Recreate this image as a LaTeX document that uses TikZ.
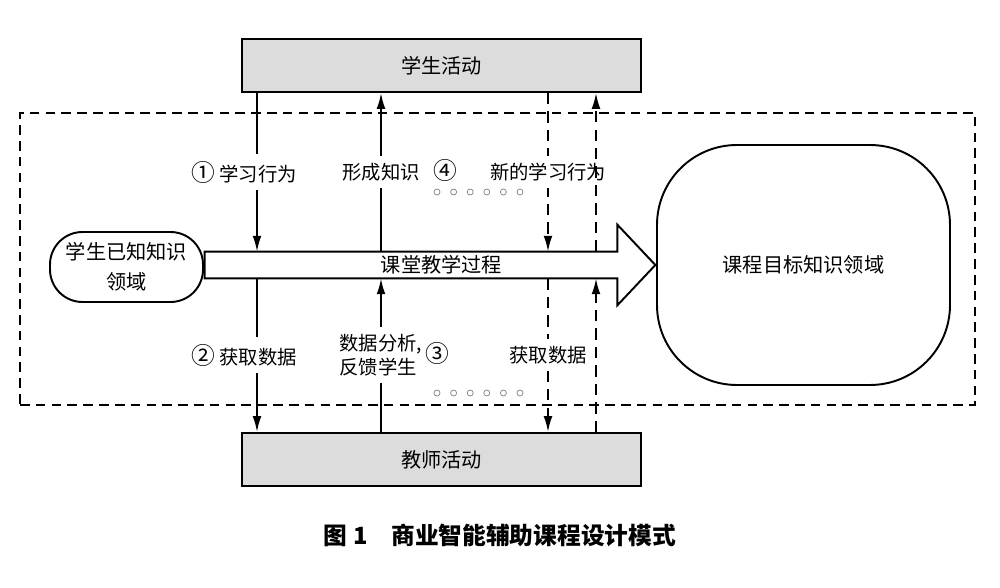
\documentclass[tikz,border=0pt]{standalone}
\usepackage{fontspec}
\setmainfont{Noto Sans CJK SC}
\usepackage{tikz}
\usetikzlibrary{arrows.meta, positioning}
\definecolor{boxgray}{RGB}{220,220,220}
\newcommand{\cnum}[1]{{\fontsize{13.5pt}{14pt}\selectfont #1}}
\tikzstyle{activity} = [rectangle, minimum width=7.98cm, minimum height=1.06cm, text centered, draw=black, line width=1.1pt, fill=boxgray, font=\fontsize{11.5pt}{14pt}\selectfont]
\tikzstyle{knowfield} = [rectangle, draw=black, line width=1.1pt, align=center, font=\fontsize{11.5pt}{17pt}\selectfont]
\tikzstyle{flowtext} = [fill=white, inner xsep=1pt, inner ysep=4pt]
\tikzstyle{arrow} = [line width=1.1pt, -{Latex[length=9pt,width=5pt]}]
\tikzstyle{dasharrow} = [arrow, dash pattern=on 6.5pt off 4pt]
\tikzstyle{dashframe} = [rectangle, draw=black, line width=1.1pt, dash pattern=on 5.5pt off 3.5pt]

\begin{document}
\begin{tikzpicture}[font=\fontsize{11pt}{14pt}\selectfont]
\useasboundingbox (0,0) rectangle (20,11.74);

% Dashed frame
\node (area) [dashframe, minimum width=19.1cm, minimum height=5.84cm] at (9.95,6.56) {};

% Activities
\node (student) [activity] at (8.83,10.43) {学生活动};
\node (teacher) [activity] at (8.83,2.55) {教师活动};

% Knowledge fields
\node (known) [knowfield, minimum width=3.06cm, minimum height=1.4cm, rounded corners=0.65cm] at (2.53,6.4) {学生已知知识\\领域};
\node (target) [knowfield, minimum width=5.86cm, minimum height=4.8cm, rounded corners=1.6cm] at (16.07,6.44) {课程目标知识领域};

% Classroom process arrow
\node (process) [minimum width=8.24cm, minimum height=0.52cm, inner sep=0pt] at (8.22,6.44) {};
\draw [line width=1.1pt] (process.south east) -- ++(0,-0.54) -- ([xshift=0.76cm]process.east) -- ([yshift=0.54cm]process.north east) -- (process.north east) -- (process.north west) -- (process.south west) -- cycle;
\node (processtext) [font=\fontsize{11.5pt}{14pt}\selectfont] at ([xshift=0.61cm]process.center) {课堂教学过程};

% Columns
\coordinate (c1) at (5.14,0);
\coordinate (c2) at (7.62,0);
\coordinate (c3) at (10.96,0);
\coordinate (c4) at (11.92,0);

% Arrows
\draw [arrow] (student.south -| c1) -- node[flowtext, xshift=-0.26cm] {\cnum{①} 学习行为} (process.north -| c1);
\draw [arrow] (process.south -| c1) -- node[flowtext, xshift=-0.26cm] {\cnum{②} 获取数据} (teacher.north -| c1);
\draw [arrow] (process.north -| c2) -- node[flowtext] (form) {形成知识} (student.south -| c2);
\draw [arrow] (teacher.north -| c2) -- node[flowtext, align=left] (feedback) {数据分析,\\反馈学生} (process.south -| c2);
\draw [dasharrow] (student.south -| c3) -- node[flowtext] {新的学习行为} (process.north -| c3);
\draw [dasharrow] (process.south -| c3) -- node[flowtext] {获取数据} (teacher.north -| c3);
\draw [dasharrow] (process.north -| c4) -- (student.south -| c4);
\draw [dasharrow] (teacher.north -| c4) -- (process.south -| c4);

\node (four) at (8.9,8.34) {\cnum{④}};
\node (three) at (8.74,4.68) {\cnum{③}};

% Ellipsis
\foreach \i in {0,...,5} {
  \draw [gray, line width=0.4pt] (8.74+0.332*\i,7.9) circle (0.06);
  \draw [gray, line width=0.4pt] (8.74+0.332*\i,3.88) circle (0.06);
}

% Caption
\node (caption) [font=\fontsize{13.5pt}{16pt}\selectfont\bfseries] at (10.0,1.04) {图 1\quad 商业智能辅助课程设计模式};

\end{tikzpicture}
\end{document}
